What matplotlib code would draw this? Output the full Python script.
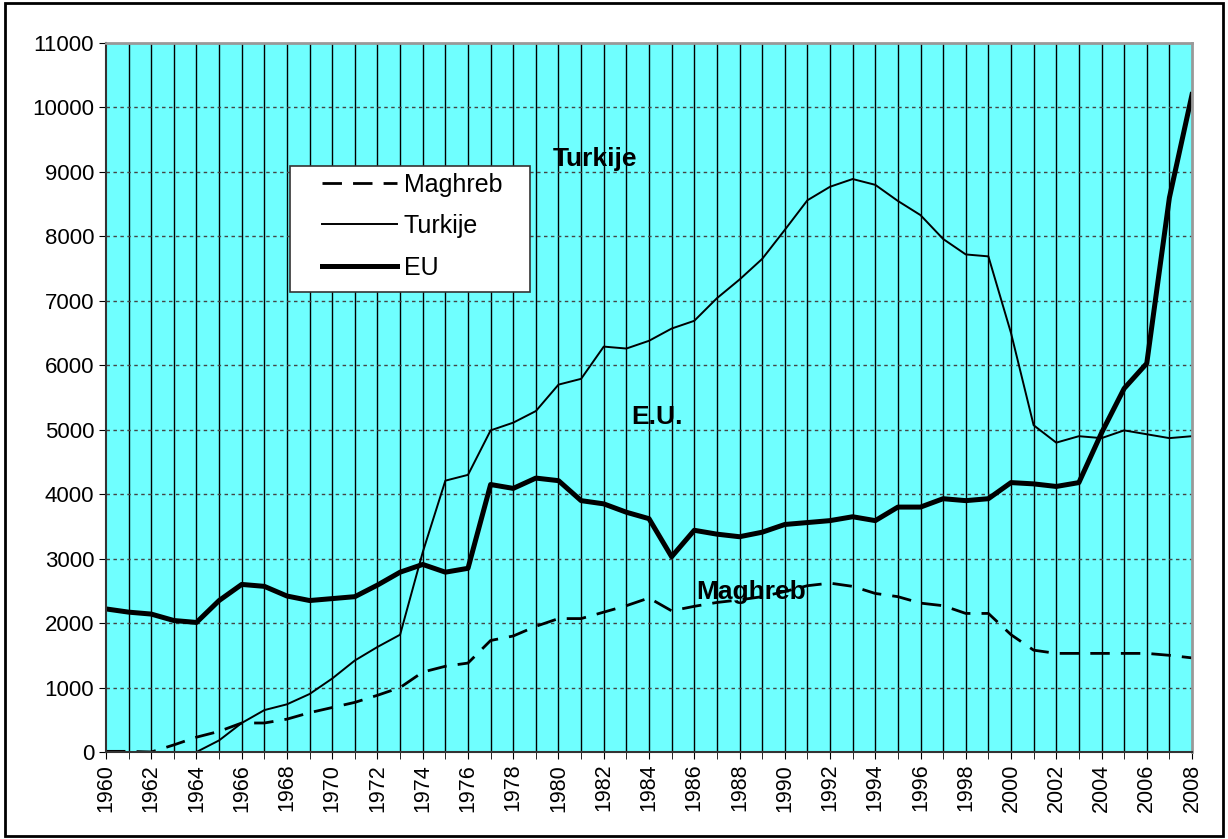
import matplotlib.pyplot as plt
from matplotlib.patches import Rectangle

plt.rcParams['font.family'] = ['Liberation Sans', 'DejaVu Sans']

# --- Data ---
years = list(range(1960, 2009))

maghreb = [10, 10, 0, 110, 230, 320, 450, 450, 510, 610,
           690, 770, 880, 1000, 1240, 1330, 1380, 1730, 1800, 1950,
           2070, 2070, 2170, 2270, 2390, 2190, 2260, 2320, 2360, 2410,
           2490, 2580, 2620, 2570, 2460, 2410, 2310, 2270, 2150, 2150,
           1820, 1580, 1530, 1530, 1530, 1530, 1530, 1500, 1460]

turkije = [0, 0, 0, 0, 0, 180, 450, 650, 740, 900,
           1140, 1420, 1630, 1820, 3100, 4210, 4300, 4990, 5110, 5290,
           5700, 5790, 6290, 6260, 6380, 6570, 6690, 7040, 7330, 7650,
           8100, 8560, 8770, 8890, 8800, 8550, 8330, 7960, 7720, 7690,
           6500, 5070, 4800, 4900, 4870, 4990, 4930, 4870, 4900]

eu = [2220, 2170, 2140, 2040, 2010, 2350, 2600, 2570, 2420, 2350,
      2380, 2410, 2590, 2790, 2910, 2790, 2850, 4150, 4090, 4250,
      4210, 3900, 3850, 3720, 3620, 3030, 3440, 3380, 3340, 3410,
      3530, 3560, 3590, 3650, 3590, 3800, 3800, 3930, 3900, 3930,
      4180, 4160, 4120, 4180, 4950, 5640, 6030, 8600, 10200]

# --- Plot ---
fig = plt.figure(figsize=(12.28, 8.39), dpi=100)
ax = fig.add_axes([0.0863, 0.1037, 0.8844, 0.845])
ax.set_facecolor('#6FFFFF')

ax.plot(years, maghreb, color='black', linewidth=2, linestyle=(0, (7, 4)), label='Maghreb')
ax.plot(years, turkije, color='black', linewidth=1.4, label='Turkije')
ax.plot(years, eu, color='black', linewidth=3.6, label='EU')

ax.set_xlim(1960, 2008)
ax.set_ylim(0, 11000)
ax.set_yticks(range(0, 11001, 1000))
ax.set_xticks(range(1960, 2009, 2))
ax.set_xticks(years, minor=True)
ax.tick_params(axis='x', labelrotation=90, labelsize=15.5, length=5, direction='out')
ax.tick_params(axis='x', which='minor', length=5)
ax.tick_params(axis='y', labelsize=16, length=5, direction='out')

# grid: solid vertical per year, dashed horizontal
for y in years[1:-1]:
    ax.axvline(y, color='black', linewidth=1, zorder=1)
for v in range(1000, 11000, 1000):
    ax.axhline(v, color='#444444', linewidth=1, linestyle=(0, (2.5, 2.5)), zorder=1)

for s in ['top', 'right']:
    ax.spines[s].set_color('#999999')
    ax.spines[s].set_linewidth(2)
for s in ['left', 'bottom']:
    ax.spines[s].set_color('#333333')
    ax.spines[s].set_linewidth(1.5)

ax.text(1981.6, 9200, 'Turkije', fontsize=19, fontweight='bold', ha='center', va='center')
ax.text(1984.35, 5200, 'E.U.', fontsize=19, fontweight='bold', ha='center', va='center')
ax.text(1988.5, 2480, 'Maghreb', fontsize=19, fontweight='bold', ha='center', va='center')

# legend box drawn separately so it can be wider than its content
box = Rectangle((0.236, 0.652), 0.196, 0.15, transform=fig.transFigure,
                facecolor='white', edgecolor='#333333', linewidth=1.2,
                zorder=8, clip_on=False)
ax.add_patch(box)
leg = ax.legend(loc='center left', bbox_to_anchor=(0.262, 0.7306),
                bbox_transform=fig.transFigure, borderaxespad=0, borderpad=0,
                fontsize=18, frameon=False, handlelength=3.0, handletextpad=0.28,
                labelspacing=0.7)
leg.set_zorder(9)

fig.patches.append(Rectangle((0.004, 0.004), 0.992, 0.992, transform=fig.transFigure,
                             fill=False, edgecolor='black', linewidth=2))

fig.savefig('out.png', dpi=100)
